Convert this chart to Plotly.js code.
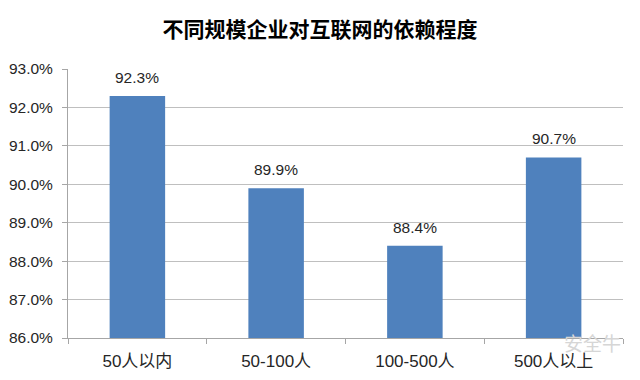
<!DOCTYPE html>
<html><head><meta charset="utf-8">
<script src="https://cdn.plot.ly/plotly-3.0.1.min.js"></script>
<style>body{margin:0;background:#fff}#c{width:640px;height:380px}</style>
</head><body><div id="c"></div>
<script>
var categories = ['50人以内', '50-100人', '100-500人', '500人以上'];
var values = [92.3, 89.9, 88.4, 90.7];
var yTicks = [86, 87, 88, 89, 90, 91, 92, 93];
var yTickLabels = ['86.0%', '87.0%', '88.0%', '89.0%', '90.0%', '91.0%', '92.0%', '93.0%'];
var titleText = '不同规模企业对互联网的依赖程度';
var watermark = '安全牛';

var font = 'Liberation Sans, Noto Sans CJK SC, sans-serif';
var annotations = categories.map(function(c, i){
  return {x: c, y: values[i], xref: 'x', yref: 'y', text: values[i].toFixed(1) + '%',
    showarrow: false, yanchor: 'bottom', yshift: 8,
    font: {family: font, size: 15.5, color: '#262626'}};
});
annotations.push({x: 1, y: 0, xref: 'paper', yref: 'paper', xanchor: 'right', yanchor: 'middle',
  xshift: 0, yshift: -4, text: watermark, showarrow: false,
  font: {family: 'Noto Sans CJK SC, sans-serif', size: 19, color: '#d6d6d6'}});

Plotly.newPlot('c', [{
  type: 'bar', x: categories, y: values,
  marker: {color: '#4F81BD', line: {width: 0}},
  hoverinfo: 'none'
}], {
  width: 640, height: 380,
  margin: {l: 68, r: 17, t: 69, b: 42},
  paper_bgcolor: '#fff', plot_bgcolor: '#fff',
  bargap: 0.6,
  showlegend: false,
  title: {text: '<b>' + titleText + '</b>', x: 0.5, xanchor: 'center', y: 0.921, yanchor: 'middle',
    font: {family: 'Noto Sans CJK SC, sans-serif', size: 21, color: '#000'}},
  xaxis: {type: 'category', showline: true, linecolor: '#a6a6a6', linewidth: 1,
    ticks: 'outside', tickson: 'boundaries', ticklen: 5, tickcolor: '#a6a6a6',
    ticklabelstandoff: 8,
    showgrid: false, tickfont: {family: font, size: 17, color: '#262626'}, fixedrange: true},
  yaxis: {range: [86, 93], tickvals: yTicks, ticktext: yTickLabels,
    showline: true, linecolor: '#a6a6a6', linewidth: 1,
    ticks: 'outside', ticklen: 5, tickcolor: '#a6a6a6', ticklabelstandoff: 6,
    showgrid: true, gridcolor: '#bfbfbf', gridwidth: 1, zeroline: false,
    tickfont: {family: font, size: 15.5, color: '#262626'}, fixedrange: true},
  annotations: annotations
}, {displayModeBar: false, staticPlot: true});
</script></body></html>
